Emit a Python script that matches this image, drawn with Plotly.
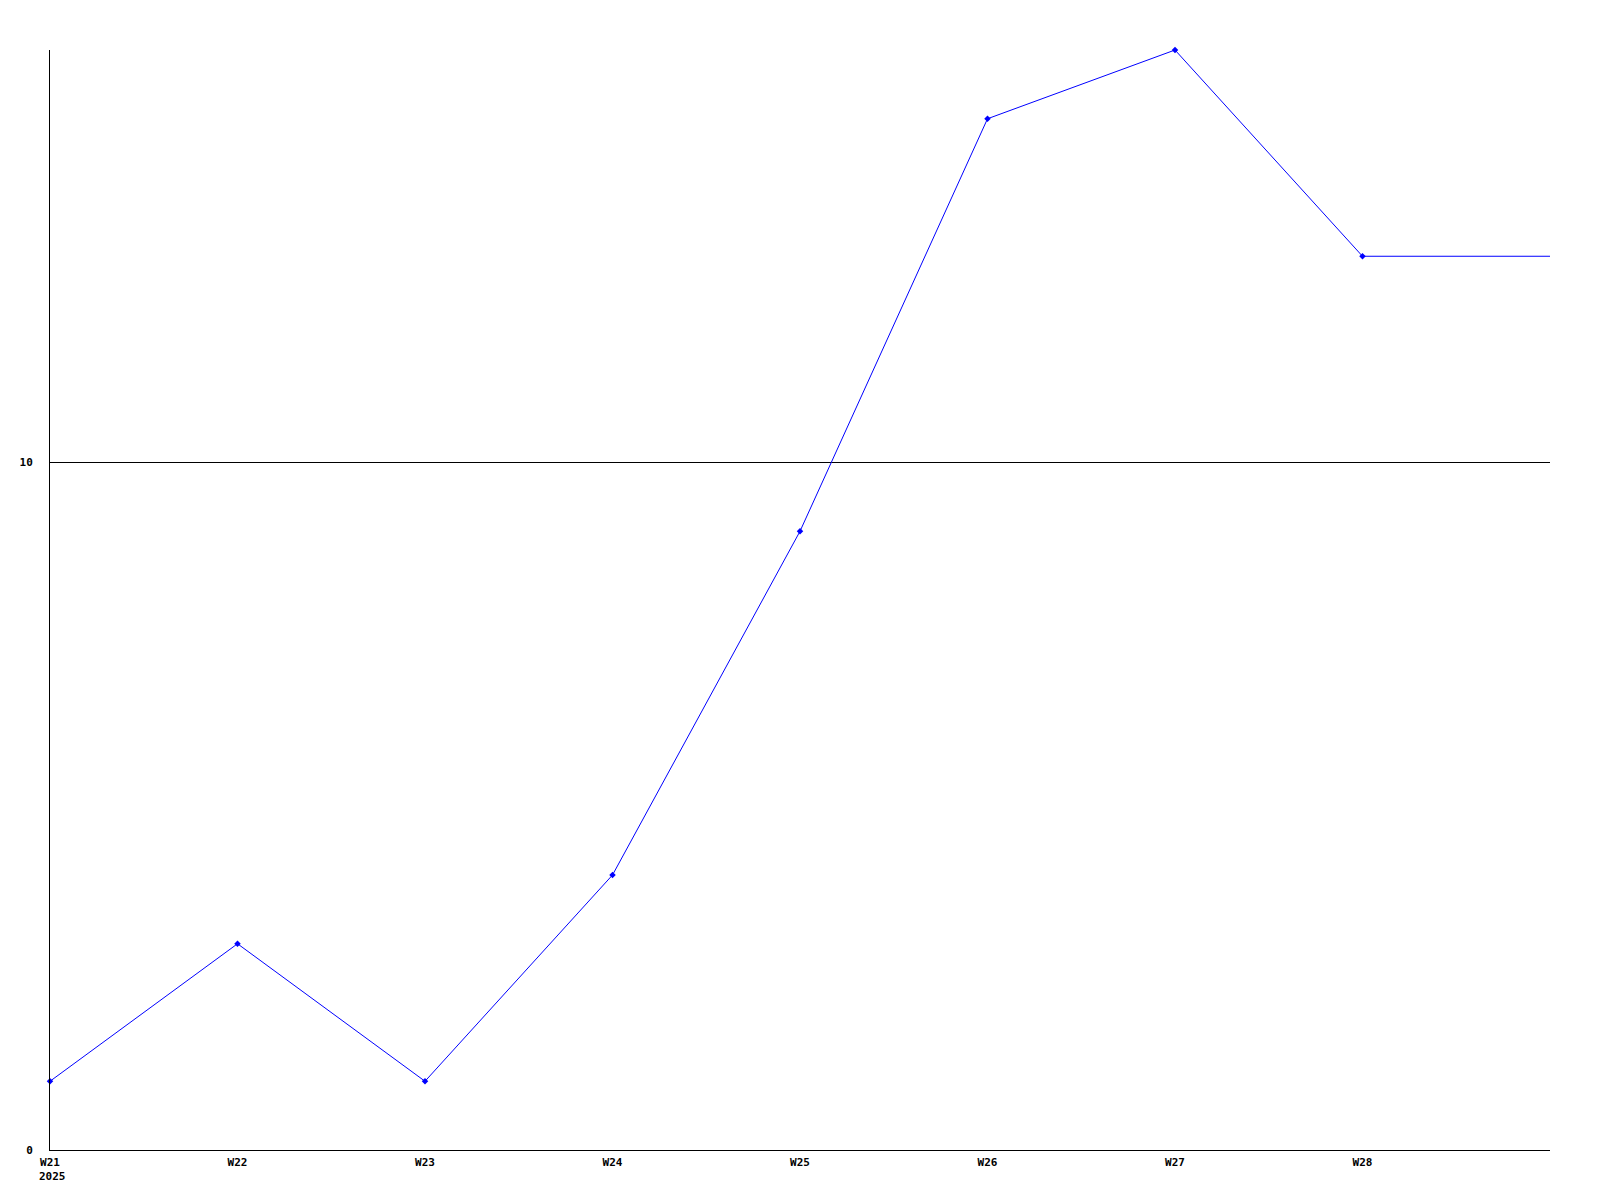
import plotly.graph_objects as go

weeks = ["W21", "W22", "W23", "W24", "W25", "W26", "W27", "W28"]
year_label = "2025"
values = [1, 3, 1, 4, 9, 15, 16, 13]
y_ticks = [0, 10]

xpos = list(range(len(weeks)))

fig = go.Figure()
fig.add_trace(go.Scatter(
    x=xpos, y=values, mode="lines+markers",
    line=dict(color="#0000ff", width=1),
    marker=dict(symbol="diamond", size=5, color="#0000ff"),
    hoverinfo="skip", showlegend=False, cliponaxis=False,
))
# last value held to the end of the period
fig.add_trace(go.Scatter(
    x=[xpos[-1], xpos[-1] + 1], y=[values[-1], values[-1]], mode="lines",
    line=dict(color="#0000ff", width=1),
    hoverinfo="skip", showlegend=False,
))

font = dict(family="DejaVu Sans Mono", size=11, color="black", weight="bold")
fig.update_layout(
    width=1584, height=1184,
    margin=dict(l=42, r=42, t=42, b=42),
    paper_bgcolor="white", plot_bgcolor="white",
    font=font,
    xaxis=dict(
        range=[0, len(weeks)], tickvals=xpos, ticktext=weeks,
        showgrid=False, zeroline=False, showline=True, linecolor="black", linewidth=1,
        ticks="", tickfont=font, ticklabelstandoff=2, automargin=False,
    ),
    yaxis=dict(
        range=[0, 16], tickvals=y_ticks, ticktext=[str(v) for v in y_ticks],
        showgrid=True, gridcolor="black", gridwidth=1, zeroline=False,
        showline=True, linecolor="black", linewidth=1,
        ticks="", tickfont=font, ticklabelstandoff=14, automargin=False,
    ),
    annotations=[dict(
        text=year_label, x=xpos[0], xref="x", y=0, yref="paper",
        xanchor="left", yanchor="middle", xshift=-13, yshift=-26,
        showarrow=False, font=font,
    )],
)
fig.write_html("out.html")
